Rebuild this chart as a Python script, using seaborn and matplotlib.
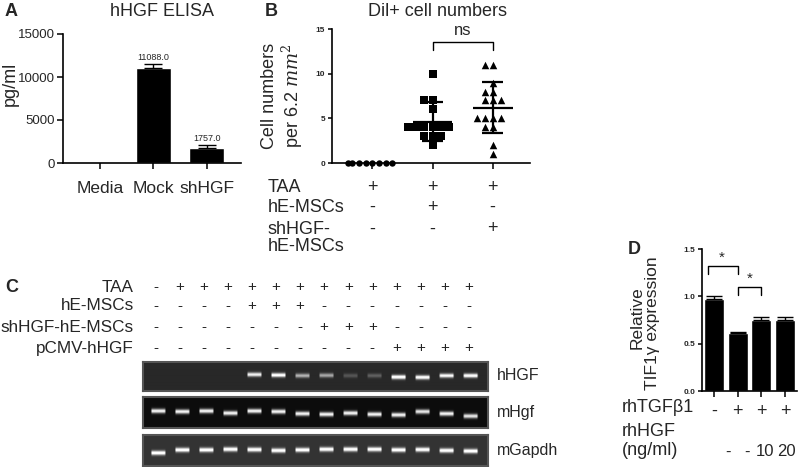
import numpy as np
import pandas as pd
import seaborn as sns
import matplotlib
matplotlib.use('Agg')
import matplotlib.pyplot as plt
import matplotlib.transforms as mtransforms

# ---- data -------------------------------------------------------------
# A: hHGF ELISA
elisa_groups = ['Media', 'Mock', 'shHGF']
elisa_values = [0.0, 11088.0, 1757.0]
elisa_err = [0.0, 380.0, 330.0]

# B: DiI+ cell numbers
dil_groups = ['TAA', 'TAA+hE-MSCs', 'TAA+shHGF-hE-MSCs']
dil_taa = [0, 0, 0, 0, 0, 0, 0, 0]
dil_hemsc = [10, 7, 7, 6, 4, 4, 4, 4, 4, 4, 3, 3, 3, 2]
dil_shhgf = [11, 11, 9, 8, 8, 7, 7, 7, 5, 5, 5, 5, 4, 4, 2, 1]
b_rows = ['TAA', 'hE-MSCs', 'shHGF-\nhE-MSCs']
b_signs = [['+', '+', '+'], ['-', '+', '-'], ['-', '-', '+']]

# C: RT-PCR gels (14 lanes)
c_rows = ['TAA', 'hE-MSCs', 'shHGF-hE-MSCs', 'pCMV-hHGF']
c_signs = ['-+++++++++++++',
           '----+++-------',
           '-------+++----',
           '----------++++']
gel_names = ['hHGF', 'mHgf', 'mGapdh']
hhgf_band = [0, 0, 0, 0, 0.8, 0.9, 0.55, 0.5, 0.18, 0.22, 0.95, 0.9, 0.85, 0.9]
hhgf_pos = [0.45, 0.45, 0.45, 0.45, 0.43, 0.45, 0.47, 0.46, 0.47, 0.47, 0.52, 0.53, 0.47, 0.47]
mhgf_band = [0.9, 0.9, 0.9, 0.9, 0.9, 0.9, 0.9, 0.9, 0.9, 0.9, 0.9, 0.85, 0.9, 0.85]
mhgf_pos = [0.45, 0.47, 0.45, 0.52, 0.45, 0.47, 0.54, 0.56, 0.52, 0.56, 0.58, 0.47, 0.54, 0.62]
mgapdh_band = [0.85, 0.85, 0.85, 0.85, 0.85, 0.85, 0.85, 0.85, 0.85, 0.85, 0.85, 0.85, 0.85, 0.85]
mgapdh_pos = [0.58, 0.48, 0.48, 0.46, 0.47, 0.5, 0.48, 0.46, 0.46, 0.46, 0.48, 0.47, 0.5, 0.52]
gel_bg = [0.16, 0.05, 0.2]

# D: TIF1g expression
d_values = [0.97, 0.61, 0.75, 0.75]
d_err = [0.035, 0.01, 0.03, 0.03]
d_tgf = ['-', '+', '+', '+']
d_hgf = ['-', '-', '10', '20']

# ---- layout helpers ---------------------------------------------------
W, H = 798, 467
sns.set_style('ticks')
plt.rcParams['font.family'] = ['Liberation Sans', 'DejaVu Sans']
plt.rcParams['mathtext.fontset'] = 'dejavuserif'
fig = plt.figure(figsize=(W / 100, H / 100), dpi=100)


def rect(x0, y0, x1, y1):
    return [x0 / W, 1 - y1 / H, (x1 - x0) / W, (y1 - y0) / H]


def fy(y):
    return 1 - y / H


def style_axis(ax):
    sns.despine(ax=ax)
    for s in ['left', 'bottom']:
        ax.spines[s].set_linewidth(1.2)
        ax.spines[s].set_color('black')
    ax.tick_params(width=1.1, color='black')


# ---- A ---------------------------------------------------------------
axA = fig.add_axes(rect(63, 34, 241, 163))
sns.barplot(x=elisa_groups, y=elisa_values, color='black', saturation=1,
            width=0.65, errorbar=None, ax=axA)
axA.errorbar([1, 2], elisa_values[1:], yerr=[[0, 0], elisa_err[1:]],
             fmt='none', ecolor='black', elinewidth=1, capsize=6.5, capthick=1)
for i in [1, 2]:
    axA.annotate(f'{elisa_values[i]:.1f}', (i, elisa_values[i] + elisa_err[i]),
                 xytext=(0, 1.5), textcoords='offset points',
                 ha='center', va='bottom', fontsize=6.5)
axA.set_ylim(0, 15000)
axA.set_xlim(-0.69, 2.64)
axA.set_yticks([0, 5000, 10000, 15000])
axA.tick_params(axis='y', labelsize=9.5, length=4, pad=1.5)
axA.tick_params(axis='x', labelsize=12.5, length=4, pad=9)
style_axis(axA)
fig.text(10 / W, fy(84), 'pg/ml', rotation=90, ha='center', va='center', fontsize=13)
fig.text(162 / W, fy(11), 'hHGF ELISA', ha='center', va='center', fontsize=13)
fig.text(5 / W, fy(12), 'A', ha='left', va='center', fontsize=13, fontweight='bold')

# ---- B ---------------------------------------------------------------
axB = fig.add_axes(rect(332, 29, 530, 163))
groups = [dil_taa, dil_hemsc, dil_shhgf]
markers = ['o', 's', '^']
sizes = [4.6, 5.5, 5.4]
for g, vals, m, s in zip(dil_groups, groups, markers, sizes):
    df = pd.DataFrame({'group': g, 'cells': vals})
    sns.swarmplot(data=df, x='group', y='cells', order=dil_groups, marker=m,
                  color='black', size=s, ax=axB, clip_on=False)
for i, vals in enumerate(groups):
    m = np.mean(vals)
    sd = np.std(vals, ddof=1)
    if sd > 0:
        axB.hlines(m, i - 0.33, i + 0.33, color='black', lw=1.6, zorder=4)
        axB.vlines(i, m - sd, m + sd, color='black', lw=1.6, zorder=4)
        axB.hlines([m - sd, m + sd], i - 0.17, i + 0.17, color='black', lw=1.6, zorder=4)
axB.plot([1, 1, 2, 2], [12.7, 13.5, 13.5, 12.7], color='black', lw=1, clip_on=False)
axB.text(1.5, 14.3, 'ns', ha='center', va='baseline', fontsize=12)
axB.set_ylim(0, 15)
axB.set_xlim(-0.67, 2.62)
axB.set_yticks([0, 5, 10, 15])
axB.set_xlabel('')
axB.set_ylabel('')
axB.set_xticklabels([])
axB.tick_params(axis='y', labelsize=6, length=3, pad=2)
for t in axB.get_yticklabels():
    t.set_fontweight('bold')
axB.tick_params(axis='x', length=4)
style_axis(axB)
fig.text(283 / W, fy(96), 'Cell numbers\nper 6.2 $mm^2$', rotation=90,
         ha='center', va='center', fontsize=13, linespacing=1.05)
fig.text(438 / W, fy(11), 'Dil+ cell numbers', ha='center', va='center', fontsize=13)
fig.text(265 / W, fy(12), 'B', ha='left', va='center', fontsize=13, fontweight='bold')

transB = mtransforms.blended_transform_factory(axB.transData, fig.transFigure)
b_y = [187, 207, 229]
b_label_y = [187, 207, 238]
for r, label in enumerate(b_rows):
    fig.text(268 / W, fy(b_label_y[r]), label, ha='left', va='center',
             fontsize=13, linespacing=1.05)
    for i, sign in enumerate(b_signs[r]):
        axB.text(i, fy(b_y[r]), sign, transform=transB, ha='center', va='center', fontsize=13)

# ---- C ---------------------------------------------------------------
gel_boxes = [(143, 362, 488, 391), (143, 397, 488, 428), (143, 435, 488, 466)]
gel_bands = [hhgf_band, mhgf_band, mgapdh_band]
gel_pos = [hhgf_pos, mhgf_pos, mgapdh_pos]
gel_label_y = [376, 412, 451]
xs = np.linspace(-0.62, 13.7, 345)
ys = np.linspace(0, 1, 31)
gel_axes = []
for k in range(3):
    ax = fig.add_axes(rect(*gel_boxes[k]))
    img = np.full((len(ys), len(xs)), gel_bg[k])
    for i, (a, c) in enumerate(zip(gel_bands[k], gel_pos[k])):
        fx = np.clip((0.33 - np.abs(xs - i)) / 0.08, 0, 1)
        fyb = np.exp(-((ys - c) / 0.075) ** 2)
        img = img + a * np.outer(fyb, fx)
    ax.imshow(np.clip(img, 0, 1), cmap='gray', vmin=0, vmax=1, aspect='auto',
              extent=(-0.62, 13.7, 1, 0), interpolation='bilinear')
    ax.set_xticks([])
    ax.set_yticks([])
    for s in ax.spines.values():
        s.set_color('#555555')
        s.set_linewidth(1.5)
    fig.text(497 / W, fy(gel_label_y[k]), gel_names[k], ha='left', va='center', fontsize=11.5)
    gel_axes.append(ax)

transC = mtransforms.blended_transform_factory(gel_axes[0].transData, fig.transFigure)
c_y = [287, 306, 327, 348]
for r, label in enumerate(c_rows):
    fig.text(134 / W, fy(c_y[r]), label, ha='right', va='center', fontsize=12.3)
    for i, sign in enumerate(c_signs[r]):
        gel_axes[0].text(i - 0.1, fy(c_y[r]), sign, transform=transC,
                         ha='center', va='center', fontsize=11)
fig.text(5 / W, fy(288), 'C', ha='left', va='center', fontsize=13, fontweight='bold')

# ---- D ---------------------------------------------------------------
axD = fig.add_axes(rect(702, 249, 797, 391))
sns.barplot(x=[0, 1, 2, 3], y=d_values, color='black', saturation=1,
            width=0.85, errorbar=None, ax=axD)
axD.errorbar([0, 1, 2, 3], d_values, yerr=[[0, 0, 0, 0], d_err], fmt='none',
             ecolor='black', elinewidth=1, capsize=5.5, capthick=1)
axD.plot([-0.25, -0.25, 1, 1], [1.235, 1.32, 1.32, 1.235], color='black', lw=1, clip_on=False)
axD.text(0.35, 1.33, '*', ha='center', va='bottom', fontsize=11)
axD.plot([1, 1, 2, 2], [1.01, 1.10, 1.10, 1.01], color='black', lw=1, clip_on=False)
axD.text(1.5, 1.11, '*', ha='center', va='bottom', fontsize=11)
axD.set_ylim(0, 1.5)
axD.set_xlim(-0.5, 3.5)
axD.set_yticks([0, 0.5, 1.0, 1.5])
axD.set_yticklabels(['0.0', '0.5', '1.0', '1.5'])
axD.set_xticklabels([])
axD.tick_params(axis='y', labelsize=6, length=3, pad=2)
for t in axD.get_yticklabels():
    t.set_fontweight('bold')
axD.tick_params(axis='x', length=4)
style_axis(axD)
fig.text(637 / W, fy(318), 'Relative', rotation=90,
         ha='center', va='center', fontsize=12.5)
fig.text(653 / W, fy(323), 'TIF1γ expression', rotation=90,
         ha='center', va='center', fontsize=12.5)
fig.text(628 / W, fy(249), 'D', ha='left', va='center', fontsize=13, fontweight='bold')

transD = mtransforms.blended_transform_factory(axD.transData, fig.transFigure)
fig.text(622 / W, fy(408), 'rhTGFβ1', ha='left', va='center', fontsize=13)
fig.text(622 / W, fy(441), 'rhHGF\n(ng/ml)', ha='left', va='center', fontsize=13,
         linespacing=1.1)
hgf_x = [0.6, 1.4, 2.15, 3.05]
for i in range(4):
    axD.text(i, fy(411), d_tgf[i], transform=transD, ha='center', va='center', fontsize=13)
    axD.text(hgf_x[i], fy(452), d_hgf[i], transform=transD, ha='center', va='center', fontsize=12)

fig.savefig('out.png', dpi=100)
